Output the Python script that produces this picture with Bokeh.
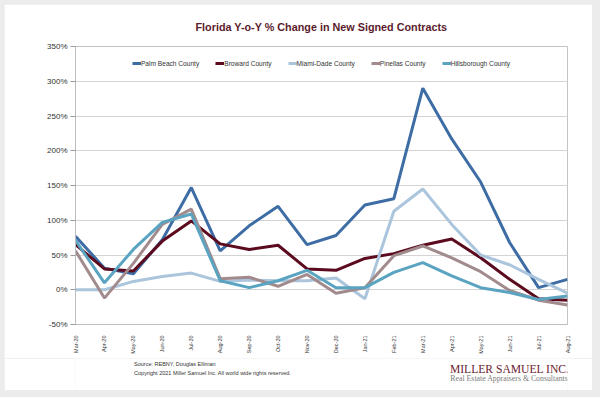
import math
from bokeh.plotting import figure
from bokeh.layouts import column
from bokeh.models import (FixedTicker, PrintfTickFormatter, Legend, LegendItem,
                          Label, Range1d)
from bokeh.embed import file_html
from bokeh.resources import INLINE

months = ["Mar-20", "Apr-20", "May-20", "Jun-20", "Jul-20", "Aug-20", "Sep-20",
          "Oct-20", "Nov-20", "Dec-20", "Jan-21", "Feb-21", "Mar-21", "Apr-21",
          "May-21", "Jun-21", "Jul-21", "Aug-21"]

palm_beach = [77, 31, 23, 72, 147, 56, 92, 120, 65, 78, 122, 131, 290, 217, 155, 68, 3, 15]
broward = [65, 30, 27, 70, 99, 66, 58, 64, 30, 28, 45, 52, 64, 73, 46, 15, -13, -15]
miami_dade = [0, 0, 12, 19, 24, 12, 14, 13, 13, 17, -13, 113, 145, 94, 50, 36, 15, -5]
pinellas = [56, -12, 38, 94, 116, 16, 18, 5, 22, -5, 3, 49, 63, 46, 26, -1, -15, -22]
hillsborough = [71, 10, 58, 97, 109, 13, 3, 13, 28, 3, 3, 25, 39, 20, 3, -4, -14, -9]

series_names = ["Palm Beach County", "Broward County", "Miami-Dade County",
                "Pinellas County", "Hillsborough County"]
series_values = [palm_beach, broward, miami_dade, pinellas, hillsborough]
series_colors = ["#3d6da4", "#5c0b1f", "#aac5dc", "#a28b8d", "#5ba4c1"]

y_ticks = [-50, 0, 50, 100, 150, 200, 250, 300, 350]

FONT = "Liberation Sans"
SERIF = "Liberation Serif"

p = figure(width=588, height=354, output_backend="svg", toolbar_location=None,
           x_range=Range1d(0, len(months) - 1), y_range=Range1d(-50, 350),
           min_border_left=71, min_border_right=25, min_border_top=42,
           min_border_bottom=34, background_fill_color="white",
           border_fill_color="white")

p.title.text = "Florida Y-o-Y % Change in New Signed Contracts"
p.title.align = "center"
p.title.offset = -6
p.title.text_font = FONT
p.title.text_font_size = "10.8px"
p.title.text_font_style = "bold"
p.title.text_color = "#5b1b2c"
p.title.standoff = 27

p.outline_line_color = "#c4c4c4"
p.xgrid.grid_line_color = None
p.ygrid.grid_line_color = "#d4d4d4"
p.ygrid.ticker = FixedTicker(ticks=y_ticks)

p.yaxis.ticker = FixedTicker(ticks=y_ticks)
p.yaxis.formatter = PrintfTickFormatter(format="%d%%")
p.yaxis.major_label_text_font = FONT
p.yaxis.major_label_text_font_size = "8px"
p.yaxis.major_label_text_color = "#333333"
p.yaxis.axis_line_color = "#bdbdbd"
p.yaxis.major_tick_line_color = "#9a9a9a"
p.yaxis.major_tick_out = 5
p.yaxis.major_tick_in = 0
p.yaxis.minor_tick_line_color = None
p.yaxis.major_label_standoff = 3

p.xaxis.ticker = FixedTicker(ticks=list(range(len(months))))
p.xaxis.major_label_overrides = {i: m for i, m in enumerate(months)}
p.xaxis.major_label_orientation = math.pi / 2
p.xaxis.major_label_text_font = FONT
p.xaxis.major_label_text_font_size = "5.5px"
p.xaxis.major_label_text_color = "#333333"
p.xaxis.axis_line_color = "#bdbdbd"
p.xaxis.major_tick_line_color = None
p.xaxis.minor_tick_line_color = None
p.xaxis.major_label_standoff = 5

x = list(range(len(months)))
items = []
for name, vals, col in zip(series_names, series_values, series_colors):
    r = p.line(x, vals, line_color=col, line_width=3)
    items.append(LegendItem(label=name, renderers=[r]))

legend = Legend(items=items, orientation="horizontal", location="top_center",
                label_text_font=FONT, label_text_font_size="6.6px",
                label_text_color="#333333", glyph_width=9, glyph_height=8,
                label_height=8, label_standoff=0, spacing=16, padding=0,
                margin=13, border_line_color=None, background_fill_alpha=0)
p.add_layout(legend, "center")

# footer strip (source, copyright, logo) as its own figure; its data units are pixels
FOOT_W, FOOT_H = 588, 32
f = figure(width=FOOT_W, height=FOOT_H, output_backend="svg", toolbar_location=None,
           x_range=Range1d(0, FOOT_W), y_range=Range1d(FOOT_H, 0),
           min_border=0, min_border_left=0, min_border_right=0,
           min_border_top=0, min_border_bottom=0,
           background_fill_color="white", border_fill_color="white")
f.axis.visible = False
f.grid.grid_line_color = None
f.outline_line_color = None


def add_text(text, x0, y0, size, color, font=FONT, align="left",
             baseline="middle"):
    f.add_layout(Label(x=x0, y=y0, text=text, text_font=font,
                       text_font_size=size, text_color=color,
                       text_align=align, text_baseline=baseline))


add_text("Source: REBNY, Douglas Elliman", 70, 5, "5.5px", "#333333")
add_text("Copyright 2021 Miller Samuel Inc.  All world wide rights reserved.",
         70, 14, "5.5px", "#333333")

add_text("MILLER SAMUEL INC.", 447.5, 11, "11.6px", "#6b2232", font=SERIF,
         baseline="alphabetic")
add_text("Real Estate Appraisers & Consultants", 448, 20, "7.8px", "#7a7a7a",
         font=SERIF)

layout = column(p, f, spacing=0,
                styles={"background-color": "#ececec",
                        "padding": "4px 8px 7px 4px"})

open("out.html", "w").write(file_html(layout, INLINE))
